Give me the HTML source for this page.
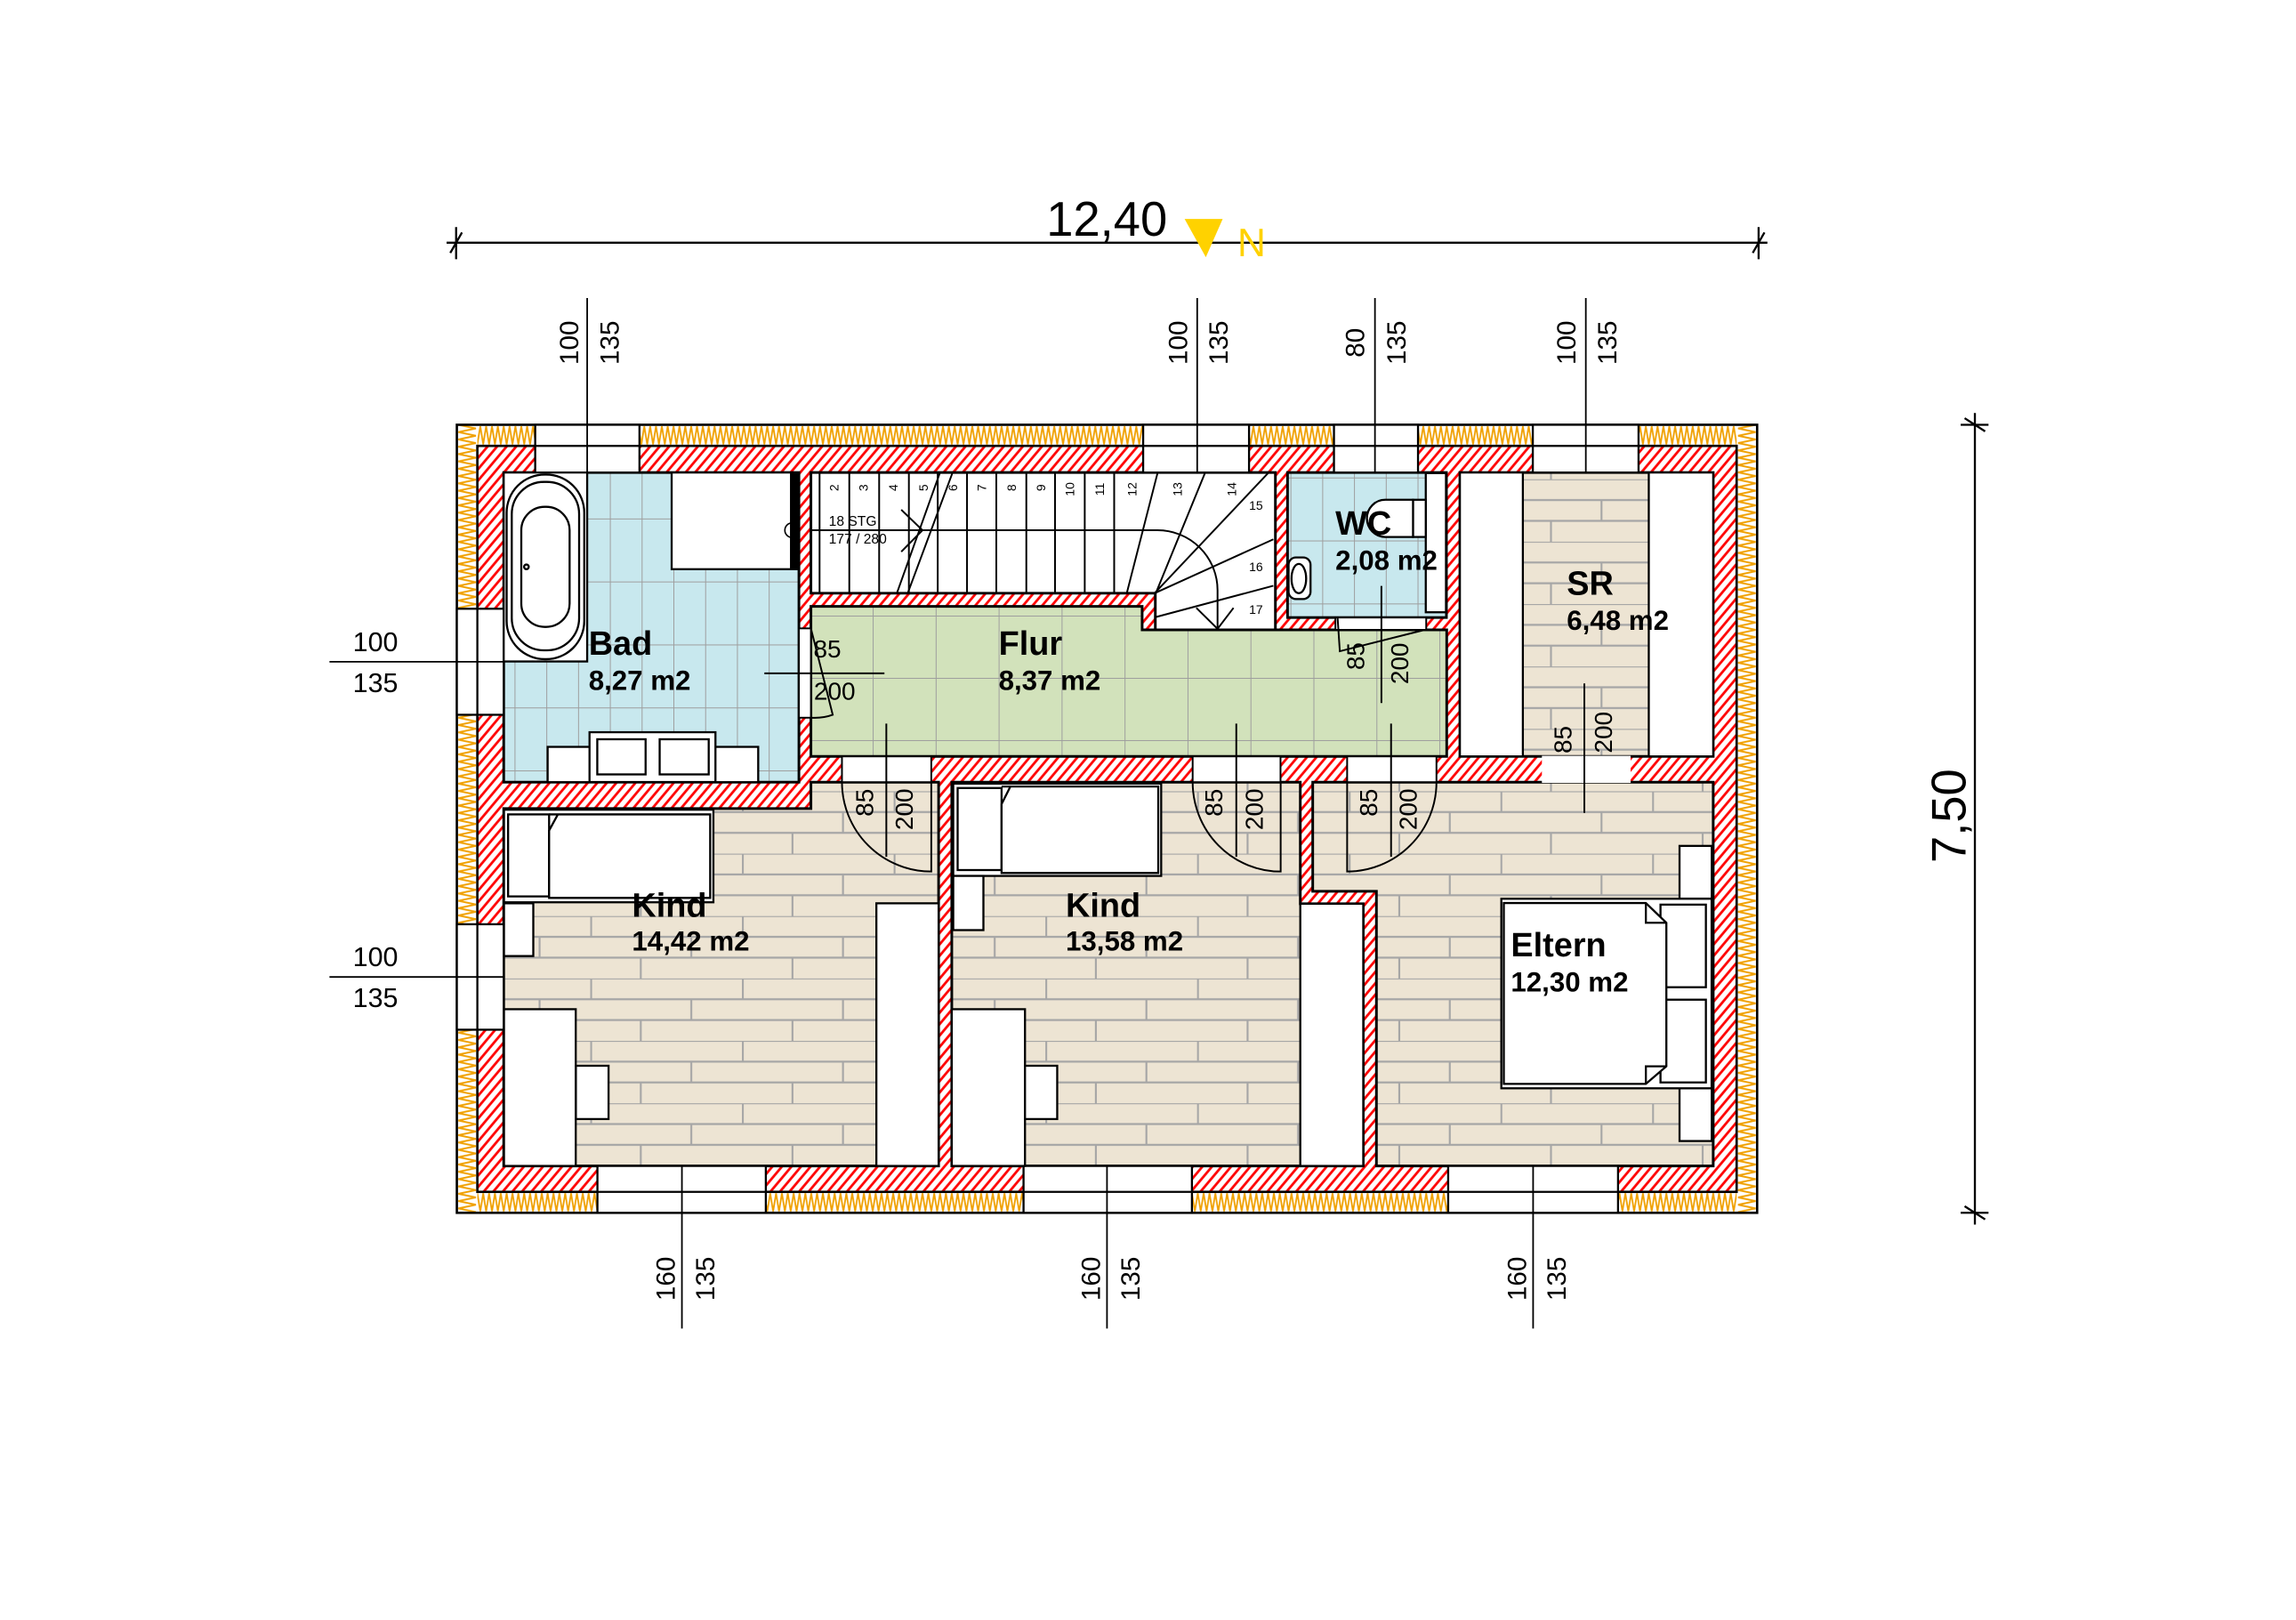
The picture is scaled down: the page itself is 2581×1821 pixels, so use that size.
<!DOCTYPE html>
<html><head><meta charset="utf-8"><style>
html,body{margin:0;padding:0;background:#fff;}
svg{display:block;}
text{font-family:"Liberation Sans",Arial,sans-serif;}
</style></head><body>
<svg width="2581" height="1821" viewBox="0 0 1568 1106" preserveAspectRatio="none" xmlns="http://www.w3.org/2000/svg">
<defs>
<pattern id="hatch" patternUnits="userSpaceOnUse" width="5" height="5" patternTransform="rotate(40)"><rect width="5" height="5" fill="#fff"/><line x1="1" y1="0" x2="1" y2="5" stroke="#f00" stroke-width="1.7"/></pattern>
<pattern id="zh" patternUnits="userSpaceOnUse" x="0" y="290" width="4" height="14.4"><rect width="4" height="14.4" fill="#fff"/><polyline points="0,1 2,13.4 4,1" fill="none" stroke="#f0a000" stroke-width="1.1"/></pattern>
<pattern id="zh2" patternUnits="userSpaceOnUse" x="0" y="813.7" width="4" height="14.3"><rect width="4" height="14.3" fill="#fff"/><polyline points="0,13.3 2,1 4,13.3" fill="none" stroke="#f0a000" stroke-width="1.1"/></pattern>
<pattern id="zv" patternUnits="userSpaceOnUse" x="312" y="0" width="14" height="5"><rect width="14" height="5" fill="#fff"/><polyline points="1,0 13,2.5 1,5" fill="none" stroke="#f0a000" stroke-width="1.2"/></pattern>
<pattern id="zv2" patternUnits="userSpaceOnUse" x="1186" y="0" width="14" height="5"><rect width="14" height="5" fill="#fff"/><polyline points="13,0 1,2.5 13,5" fill="none" stroke="#f0a000" stroke-width="1.2"/></pattern>
<pattern id="tileBad" patternUnits="userSpaceOnUse" x="351.4" y="354" width="21.7" height="43"><rect width="21.7" height="43" fill="#c8e8ee"/><path d="M0 0V43M0 0H21.7" stroke="#9e9e9e" stroke-width="1.2" fill="none"/></pattern>
<pattern id="tileWC" patternUnits="userSpaceOnUse" x="903" y="369" width="21.7" height="43"><rect width="21.7" height="43" fill="#c8e8ee"/><path d="M0 0V43M0 0H21.7" stroke="#9e9e9e" stroke-width="1.2" fill="none"/></pattern>
<pattern id="tileFlur" patternUnits="userSpaceOnUse" x="596" y="462.8" width="43" height="42.5"><rect width="43" height="42.5" fill="#d2e2bb"/><path d="M0 0V42.5M0 0H43" stroke="#9e9e9e" stroke-width="1.2" fill="none"/></pattern>
<pattern id="brick" patternUnits="userSpaceOnUse" x="1024.7" y="582.8" width="103.6" height="42.6"><rect width="103.6" height="42.6" fill="#ede4d3"/><path d="M0 0H103.6M0 14.2H103.6M0 28.4H103.6M0.6 0V14.2M69 14.2V28.4M34.5 28.4V42.6" stroke="#a6a6a6" stroke-width="1.3" fill="none"/></pattern>
</defs>
<rect width="1568" height="1106" fill="#fff"/>

<rect x="312" y="290" width="888" height="14.4" fill="url(#zh)"/>
<rect x="312" y="813.7" width="888" height="14.3" fill="url(#zh2)"/>
<rect x="312" y="290" width="14" height="538" fill="url(#zv)"/>
<rect x="1186" y="290" width="14" height="538" fill="url(#zv2)"/>
<rect x="326" y="304.4" width="860" height="509.3" fill="url(#hatch)" stroke="#000" stroke-width="1.6"/>
<rect x="312" y="290" width="888" height="538" fill="none" stroke="#000" stroke-width="1.6"/>

<g stroke="#000" stroke-width="1.8">
<rect x="344" y="322.6" width="201.6" height="211.4" fill="url(#tileBad)"/>
<polygon points="553.8,322.6 871,322.6 871,430 789,430 789,405 553.8,405" fill="#fff"/>
<polygon points="553.8,414 780,414 780,430 988,430 988,516.4 553.8,516.4" fill="url(#tileFlur)"/>
<rect x="879.3" y="322.6" width="108.5" height="99" fill="url(#tileWC)"/>
<rect x="997" y="322.6" width="173" height="193.8" fill="url(#brick)"/>
<polygon points="344,552 553.8,552 553.8,534 641,534 641,796 344,796" fill="url(#brick)"/>
<polygon points="650,534 888,534 888,617 931,617 931,796 650,796" fill="url(#brick)"/>
<polygon points="896.5,534 1170,534 1170,796 940,796 940,608.5 896.5,608.5" fill="url(#brick)"/>
</g>
<g fill="#fff" stroke="#000" stroke-width="1.2">
<rect x="575" y="516.4" width="61" height="17.6"/>
<rect x="814.5" y="516.4" width="60" height="17.6"/>
<rect x="920" y="516.4" width="61" height="17.6"/>
<rect x="545.6" y="429" width="8.2" height="61"/>
<rect x="912" y="421.6" width="62" height="8.4"/>
</g>
<rect x="1053" y="516" width="60.6" height="18.5" fill="#fff"/>

<g fill="#fff" stroke="#000" stroke-width="1.4">
<rect x="365.5" y="290" width="71.2" height="32.6"/><rect x="780.7" y="290" width="72.3" height="32.6"/><rect x="911" y="290" width="57.4" height="32.6"/><rect x="1046.8" y="290" width="72.2" height="32.6"/>
<rect x="408" y="796" width="115" height="32"/><rect x="699" y="796" width="115" height="32"/><rect x="989" y="796" width="116" height="32"/>
<rect x="312" y="415.6" width="32" height="72.4"/><rect x="312" y="631" width="32" height="72"/>
</g>
<g stroke="#000" stroke-width="1.4">
<path d="M365.5 304.4H436.7M780.7 304.4H853M911 304.4H968.4M1046.8 304.4H1119M408 813.7H523M699 813.7H814M989 813.7H1105M326 415.6V488M326 631V703"/>
</g>

<g fill="#fff" stroke="#000" stroke-width="1.4">
<rect x="344" y="322.6" width="57" height="129"/>
<rect x="346" y="324" width="53" height="126" rx="26"/>
<rect x="349.5" y="329" width="46" height="115" rx="22"/>
<rect x="356" y="346" width="33" height="82" rx="16"/>
<circle cx="359.5" cy="387" r="1.6"/>
<rect x="458.7" y="322.6" width="86.9" height="66"/>
<rect x="374" y="509.9" width="143.8" height="24.1"/>
<rect x="402.6" y="499.9" width="86" height="34"/>
<rect x="407.9" y="504.7" width="33" height="24"/>
<rect x="450.5" y="504.7" width="33.5" height="24"/>
<rect x="973.7" y="323" width="13.8" height="95"/>
<rect x="965" y="341.2" width="8.7" height="25.4"/>
<path d="M965 341.2H946A12.5 12.7 0 0 0 946 366.6H965Z"/>
<rect x="880" y="380.6" width="15" height="28.4" rx="5"/>
<ellipse cx="887" cy="395" rx="5" ry="10"/>
<rect x="997" y="322.6" width="43" height="193.8"/>
<rect x="1126" y="322.6" width="44" height="193.8"/>
<rect x="344.2" y="552.8" width="143" height="63.2"/>
<rect x="347" y="556" width="28" height="56"/>
<path d="M375 556H485V613H375V567L381 556"/>
<rect x="344.2" y="616.7" width="20" height="36"/>
<rect x="344.2" y="689" width="49" height="107"/>
<rect x="393.3" y="727.6" width="22.3" height="36.4"/>
<rect x="598.5" y="616.7" width="42.5" height="179.3"/>
<rect x="651" y="535" width="142" height="63"/>
<rect x="654" y="538" width="30" height="56"/>
<path d="M684 537H791V596H684V549L690 537"/>
<rect x="651" y="598" width="20.6" height="37"/>
<rect x="650" y="689" width="50" height="107"/>
<rect x="700" y="727.6" width="22" height="36.4"/>
<rect x="888" y="617" width="43" height="179"/>
<rect x="1147" y="577.5" width="22" height="36"/>
<rect x="1147" y="743" width="22" height="36"/>
<rect x="1025.3" y="613.6" width="143.6" height="129.4"/>
<rect x="1134" y="617.6" width="31" height="56.4"/>
<rect x="1134" y="682.5" width="31" height="56.5"/>
<path d="M1027 616.5H1124L1138 630V728L1124 740H1027Z"/>
<path d="M1124 616.5V630H1138M1124 740V728H1138" fill="none"/>
</g>
<rect x="539.5" y="322.6" width="6" height="66" fill="#000"/>
<circle cx="541" cy="362" r="5" fill="none" stroke="#000" stroke-width="1"/>

<g stroke="#000" stroke-width="1.2" fill="none">
<path d="M559.7 323V405M580 323V405M600.4 323V405M620.7 323V405M640.4 323V405M660.4 323V405M680.4 323V405M700.9 323V405M720.5 323V405M740.8 323V405M760.9 323V405"/>
<path d="M769.5 405L790.5 323M789.3 405L822.9 323M788.5 405L866 323M788.5 405L869.6 368.2M789.6 421.2L869.6 399.9"/>
<path d="M612.5 405L641.8 323M619.9 405L650.4 323"/>
<path d="M553.8 362H790.5A41 41 0 0 1 831.5 403V429.3"/>
<path d="M615.5 348L630 362L615.5 376.7M817 415L831.5 429.3L842.4 415"/>
</g>
<g font-size="8.5" fill="#000">
<g text-anchor="middle" dominant-baseline="central">
<text transform="translate(569.5,333) rotate(-90)">2</text>
<text transform="translate(589.7,333) rotate(-90)">3</text>
<text transform="translate(610,333) rotate(-90)">4</text>
<text transform="translate(630.5,333) rotate(-90)">5</text>
<text transform="translate(650.5,333) rotate(-90)">6</text>
<text transform="translate(670.5,333) rotate(-90)">7</text>
<text transform="translate(690.6,333) rotate(-90)">8</text>
<text transform="translate(710.7,333) rotate(-90)">9</text>
<text transform="translate(730.6,334) rotate(-90)">10</text>
<text transform="translate(750.8,334) rotate(-90)">11</text>
<text transform="translate(773,334) rotate(-90)">12</text>
<text transform="translate(804,334) rotate(-90)">13</text>
<text transform="translate(841,334) rotate(-90)">14</text>
</g>
<text x="853" y="348">15</text><text x="853" y="390">16</text><text x="853" y="419">17</text>
<text x="566" y="359" font-size="9.5">18 STG</text>
<text x="566" y="371" font-size="9.5">177 / 280</text>
</g>

<g stroke="#000" stroke-width="1.2" fill="none">
<path d="M575 534A61 61 0 0 0 636 595V534"/>
<path d="M814.5 534A60 61 0 0 0 874.6 595V534"/>
<path d="M920 534V595A61 61 0 0 0 981 534"/>
<path d="M553.8 429L568.7 488Q562 490.5 553.8 490"/>
<polyline points="913.5,422 915,444.6 973,430"/>
<path d="M522 459.7H604M605.3 494V585M844.3 494V585M950 494V585M943.4 400V480M1082 466.6V555"/>
</g>

<g font-weight="bold" fill="#000">
<text x="402" y="447" font-size="23">Bad</text><text x="402" y="471" font-size="19">8,27 m2</text>
<text x="682" y="447" font-size="23">Flur</text><text x="682" y="471" font-size="19">8,37 m2</text>
<text x="912" y="365" font-size="23">WC</text><text x="912" y="389" font-size="19">2,08 m2</text>
<text x="1070" y="406" font-size="23">SR</text><text x="1070" y="430" font-size="19">6,48 m2</text>
<text x="431.6" y="626" font-size="23">Kind</text><text x="431.6" y="649" font-size="19">14,42 m2</text>
<text x="727.8" y="626" font-size="23">Kind</text><text x="727.8" y="649" font-size="19">13,58 m2</text>
<text x="1031.8" y="653" font-size="23">Eltern</text><text x="1031.8" y="677" font-size="19">12,30 m2</text>
</g>

<g font-size="17" fill="#000" text-anchor="middle" dominant-baseline="central">
<text x="565" y="443">85</text><text x="570" y="472">200</text>
<text transform="translate(590.4,548) rotate(-90)">85</text><text transform="translate(617.6,552.6) rotate(-90)">200</text>
<text transform="translate(829,548) rotate(-90)">85</text><text transform="translate(856.5,552.6) rotate(-90)">200</text>
<text transform="translate(934.6,548) rotate(-90)">85</text><text transform="translate(961.8,552.6) rotate(-90)">200</text>
<text transform="translate(926,448) rotate(-90)">85</text><text transform="translate(956,453) rotate(-90)">200</text>
<text transform="translate(1067.3,505) rotate(-90)">85</text><text transform="translate(1095,500) rotate(-90)">200</text>
</g>

<g stroke="#000" stroke-width="1.4" fill="none">
<path d="M305 165.7H1207M311.5 155V177M1201 155V177M307.5 172.7L315.5 158.7M1197 172.7L1205 158.7"/>
<path d="M1348.7 282V836M1339 290H1358M1339 828H1358M1341.7 285.5L1355.7 294.5M1341.7 823.5L1355.7 832.5"/>
</g>
<g stroke="#000" stroke-width="1.1" fill="none">
<path d="M401 203.5V322M817.6 203.5V322M939 203.5V322M1083 203.5V322"/>
<path d="M465.7 796V907M756 796V907M1047 796V907"/>
<path d="M225 451.8H344M225 667H344"/>
</g>
<text x="714.6" y="161" font-size="33" fill="#000">12,40</text>
<polygon points="809,149.5 835,149.5 823.5,175.6" fill="#ffd200"/>
<text x="845" y="175" font-size="27" fill="#ffd200">N</text>
<text transform="translate(1331,557) rotate(-90)" font-size="33" text-anchor="middle" dominant-baseline="central" fill="#000">7,50</text>
<g font-size="18" fill="#000" text-anchor="middle" dominant-baseline="central">
<text transform="translate(389,234) rotate(-90)">100</text><text transform="translate(416.8,234) rotate(-90)">135</text>
<text transform="translate(805,234) rotate(-90)">100</text><text transform="translate(832.5,234) rotate(-90)">135</text>
<text transform="translate(926,234) rotate(-90)">80</text><text transform="translate(954,234) rotate(-90)">135</text>
<text transform="translate(1070,234) rotate(-90)">100</text><text transform="translate(1098,234) rotate(-90)">135</text>
<text transform="translate(455,873) rotate(-90)">160</text><text transform="translate(482,873) rotate(-90)">135</text>
<text transform="translate(745.5,873) rotate(-90)">160</text><text transform="translate(772.5,873) rotate(-90)">135</text>
<text transform="translate(1036.5,873) rotate(-90)">160</text><text transform="translate(1063.5,873) rotate(-90)">135</text>
</g>
<g font-size="18.5" fill="#000">
<text x="241" y="444.7">100</text><text x="241" y="472.6">135</text>
<text x="241" y="659.7">100</text><text x="241" y="687.6">135</text>
</g>
</svg>
</body></html>
